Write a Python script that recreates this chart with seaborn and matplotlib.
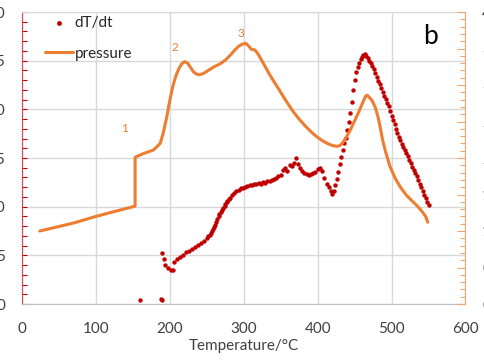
import matplotlib
matplotlib.use("Agg")
import matplotlib.pyplot as plt
import seaborn as sns
import pandas as pd
from matplotlib.ticker import MultipleLocator, FuncFormatter

# dT/dt series (left axis)
temp_dt = [160, 188, 189,
           190, 192, 194, 197, 201, 204,
           206, 210, 214, 218, 222, 226, 230, 234, 238, 242, 246, 250, 252, 254, 256, 257,
           258, 260, 261, 263, 264, 266, 267, 269, 270, 272, 274, 275, 277, 278, 280, 281,
           284, 287, 290, 293, 296, 299,
           302, 305, 308, 311, 314, 317, 320, 323, 326, 329, 332, 335, 338, 341,
           344, 347, 350, 353, 356, 359, 362, 365, 368, 371, 374, 376, 379, 382,
           385, 388, 391, 394, 397, 400, 403, 406, 409, 412, 415, 418, 420, 422,
           424, 426, 428, 430, 432, 434, 436, 438, 440, 442, 444, 446, 448, 450,
           452, 454, 456, 458, 460, 462, 464, 466, 468, 470, 472, 474, 476, 478,
           480, 482, 484, 486, 488, 490, 492, 494, 496, 498, 500, 502, 504, 506,
           508, 510, 512, 514, 516, 518, 520, 522, 524, 526, 528, 530, 532, 534,
           536, 538, 540, 542, 544, 546, 548, 550]
dt_vals = [0.4, 0.5, 0.45,
           5.2, 4.6, 4.0, 3.7, 3.5, 3.45,
           4.35, 4.6, 4.8, 5.0, 5.3, 5.45, 5.6, 5.85, 6.05, 6.25, 6.5, 6.8, 6.95, 7.1, 7.3, 7.5,
           7.7, 7.9, 8.15, 8.4, 8.7, 9.0, 9.25, 9.5, 9.7, 9.9, 10.1, 10.3, 10.45, 10.6, 10.75, 10.9,
           11.2, 11.45, 11.6, 11.75, 11.9, 11.95,
           12.0, 12.1, 12.2, 12.25, 12.3, 12.35, 12.4, 12.35, 12.5, 12.45, 12.6, 12.65, 12.7, 12.8,
           12.9, 13.1, 13.3, 13.8, 14.0, 13.7, 14.3, 14.2, 14.5, 15.0, 14.4, 14.0, 13.7, 13.5,
           13.4, 13.3, 13.4, 13.5, 13.6, 13.9, 14.0, 13.7, 12.9, 12.3, 12.0, 11.6, 11.3, 11.6,
           12.2, 12.8, 13.6, 14.4, 15.1, 15.8, 16.5, 17.1, 17.9, 18.7, 19.6, 20.8, 22.0, 23.0,
           23.8, 24.3, 24.8, 25.2, 25.4, 25.6, 25.7, 25.5, 25.3, 25.0, 24.8, 24.5, 24.1, 23.7,
           23.3, 22.9, 22.6, 22.2, 21.8, 21.4, 21.1, 20.7, 20.3, 19.8, 19.3, 18.9, 18.5, 18.0,
           17.6, 17.2, 16.8, 16.4, 16.1, 15.8, 15.5, 15.2, 14.8, 14.5, 14.1, 13.8, 13.5, 13.1,
           12.7, 12.3, 12.0, 11.6, 11.2, 10.9, 10.5, 10.2]

# pressure series (right axis)
temp_p = [24, 45, 70, 100, 130, 153, 153, 164, 178, 187, 191, 196, 200, 204, 208,
          212, 216, 220, 224, 228, 232, 236, 240, 246, 252, 260, 268, 275, 282,
          288, 293, 298, 303, 307, 310, 315, 319, 323, 328, 334, 340, 347, 353,
          360, 368, 376, 384, 392, 399, 406, 413, 420, 426, 430, 434, 439, 444,
          450, 456, 461, 465, 467, 470, 474, 478, 482, 485, 488, 492, 498, 505,
          512, 520, 528, 535, 541, 546, 549]
pressure = [1.00, 1.05, 1.11, 1.20, 1.28, 1.34, 2.01, 2.06, 2.11, 2.20, 2.34, 2.57, 2.79,
            2.98, 3.12, 3.22, 3.29, 3.32, 3.30, 3.24, 3.18, 3.15, 3.14, 3.16, 3.20,
            3.25, 3.29, 3.34, 3.41, 3.48, 3.53, 3.56, 3.57, 3.53, 3.49, 3.48, 3.43,
            3.36, 3.27, 3.16, 3.06, 2.95, 2.85, 2.74, 2.62, 2.52, 2.43, 2.35, 2.29,
            2.24, 2.20, 2.17, 2.16, 2.17, 2.21, 2.29, 2.38, 2.51, 2.64, 2.76, 2.85,
            2.86, 2.83, 2.78, 2.69, 2.55, 2.40, 2.24, 2.08, 1.88, 1.72, 1.60, 1.49,
            1.41, 1.34, 1.27, 1.20, 1.12]

# peak labels
peak_labels = ["1", "2", "3"]
peak_x = [138, 207, 296]
peak_y = [2.40, 3.51, 3.71]

RED = "#C00000"
ORANGE = "#ED7D31"
TXT = "#404040"

sns.set_style("white")
plt.rcParams["font.family"] = ["Lato", "DejaVu Sans"]

df_dt = pd.DataFrame({"T": temp_dt, "dT/dt": dt_vals})
df_p = pd.DataFrame({"T": temp_p, "pressure": pressure})

fig = plt.figure(figsize=(4.85, 3.6), dpi=100)
ax = fig.add_axes([22 / 485, 56 / 360, 443.5 / 485, 292 / 360])
ax2 = ax.twinx()

sns.scatterplot(data=df_dt, x="T", y="dT/dt", ax=ax, color=RED, s=10,
                linewidth=0, label="dT/dt", zorder=3)
sns.lineplot(data=df_p, x="T", y="pressure", ax=ax2, color=ORANGE, lw=2.2,
             estimator=None, sort=False, label="pressure")

# axes limits / ticks
ax.set_xlim(0, 600)
ax.set_ylim(0, 30)
ax2.set_ylim(0, 4)
ax.xaxis.set_major_locator(MultipleLocator(100))
ax.xaxis.set_minor_locator(MultipleLocator(20))
ax.yaxis.set_major_locator(MultipleLocator(5))
ax.yaxis.set_minor_locator(MultipleLocator(1))
ax2.yaxis.set_major_locator(MultipleLocator(0.5))
ax2.yaxis.set_minor_locator(MultipleLocator(0.1))
ax2.yaxis.set_major_formatter(FuncFormatter(lambda v, p: f"{v:g}"))

ax.grid(True, which="major", color="#D9D9D9", lw=1)
ax.set_axisbelow(True)

ax.tick_params(axis="x", which="both", direction="in", color="#BFBFBF",
               labelsize=11, labelcolor=TXT, pad=13, length=3)
ax.tick_params(axis="y", which="both", direction="in", color=RED,
               labelsize=11, labelcolor=TXT, pad=12, length=3.5, width=0.8)
ax2.tick_params(axis="y", which="major", direction="in", color="#F4A56E",
                labelsize=11, labelcolor=TXT, pad=12, length=5.5, width=0.8)
ax2.tick_params(axis="y", which="minor", direction="in", color="#F4A56E",
                length=3.6, width=0.8)

ax.spines["top"].set_color("#D9D9D9")
ax.spines["bottom"].set_color("#BFBFBF")
ax.spines["left"].set_color("#D9454A")
ax.spines["right"].set_visible(False)
for sp in ["left", "top", "bottom"]:
    ax2.spines[sp].set_visible(False)
ax2.spines["right"].set_color("#F4A56E")

ax.set_xlabel("Temperature/°C", fontsize=11, color=TXT, labelpad=2)
ax.set_ylabel("")
ax2.set_ylabel("")

for lab, x, y in zip(peak_labels, peak_x, peak_y):
    ax2.text(x, y, lab, color=ORANGE, fontsize=8.5, ha="center", va="center")

ax.text(0.92, 0.915, "b", transform=ax.transAxes, fontsize=19,
        color="black", ha="center", va="center")

# legend
h1, l1 = ax.get_legend_handles_labels()
h2, l2 = ax2.get_legend_handles_labels()
ax.get_legend().remove()
ax2.get_legend().remove()
ax2.legend(h1 + h2, l1 + l2, loc="upper left",
           bbox_to_anchor=(45 / 485, 1 - 16 / 360), bbox_transform=fig.transFigure,
           frameon=False, fontsize=11, handlelength=1.8, handletextpad=0.15,
           borderpad=0, borderaxespad=0, labelspacing=1.1, markerscale=1.1)

fig.savefig("out.png", dpi=100)
